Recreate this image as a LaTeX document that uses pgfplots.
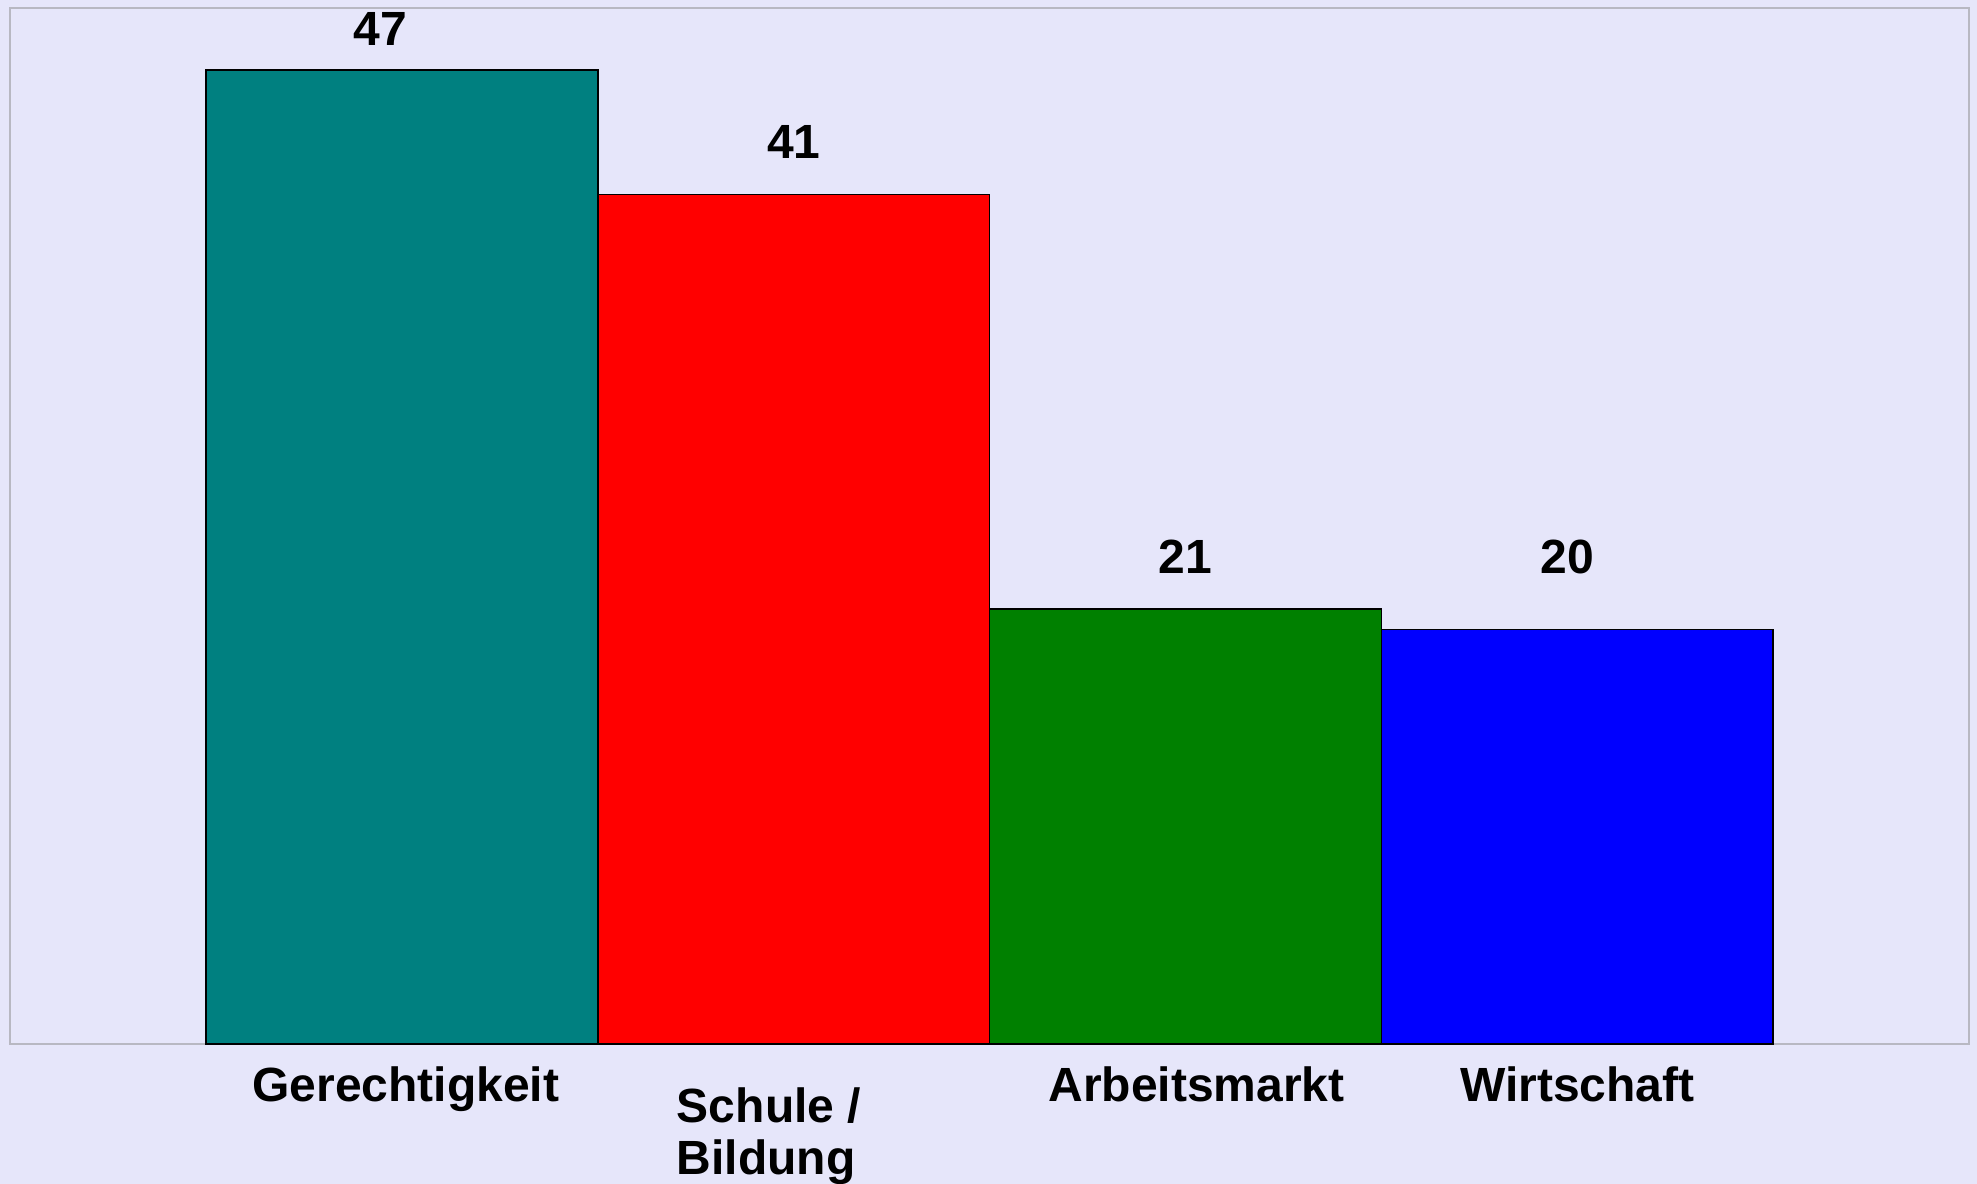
\documentclass[border=0pt]{standalone}
\usepackage{pgfplots}
\pgfplotsset{compat=1.18}
\usepackage{fontspec}
\setmainfont{Liberation Sans}
\definecolor{bg}{RGB}{230,230,250}
\definecolor{framec}{RGB}{184,184,194}
\definecolor{cteal}{RGB}{0,128,128}
\definecolor{cred}{RGB}{255,0,0}
\definecolor{cgreen}{RGB}{0,128,0}
\definecolor{cblue}{RGB}{0,0,255}
\begin{document}
\begin{tikzpicture}
\fill[bg] (-2.5pt,-35pt) rectangle (491.75pt,261pt);
\useasboundingbox (-2.5pt,-35pt) rectangle (491.75pt,261pt);
\begin{axis}[
  at={(0pt,0pt)}, anchor=south west,
  scale only axis, width=489.75pt, height=259pt,
  xmin=-1, xmax=4, ymin=0, ymax=50,
  axis background/.style={fill=bg},
  axis line style={draw=framec, line width=0.5pt},
  ytick=\empty,
  xtick={0,1,2,3},
  major tick length=0pt,
  xticklabels={\hspace*{2pt}Gerechtigkeit,{\raisebox{-4.75pt}[\height][\depth]{\begin{tabular}{@{}l@{}}Schule /\\Bildung\end{tabular}}\hspace*{12.3pt}},\hspace*{5.6pt}Arbeitsmarkt,Wirtschaft},
  xticklabel style={anchor=north, inner sep=0pt, yshift=-5.5pt, font=\fontsize{12.0}{13}\selectfont\bfseries},
  ybar, bar width=1, bar shift=0pt,
  clip=false,
]
\addplot[fill=cteal, draw=black, line width=0.4pt] coordinates {(0,47)};
\addplot[fill=cred, draw=black, line width=0.4pt] coordinates {(1,41)};
\addplot[fill=cgreen, draw=black, line width=0.4pt] coordinates {(2,21)};
\addplot[fill=cblue, draw=black, line width=0.4pt] coordinates {(3,20)};
\begin{scope}[every node/.style={font=\fontsize{12.0}{13}\selectfont\bfseries, inner sep=0pt}]
\node at (axis cs:-0.054,49.0) {47};
\node at (axis cs:1.001,43.55) {41};
\node at (axis cs:2.0,23.5) {21};
\node at (axis cs:2.974,23.5) {20};
\end{scope}
\end{axis}
\end{tikzpicture}
\end{document}
